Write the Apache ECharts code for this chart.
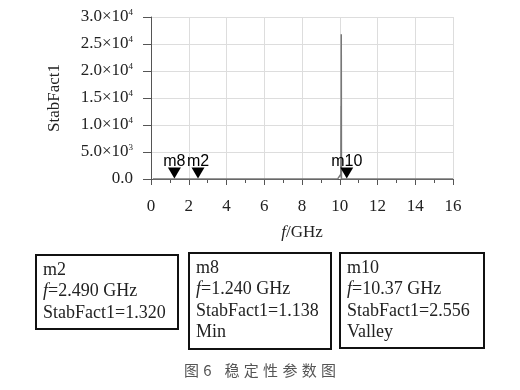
<!DOCTYPE html>
<html>
<head>
<meta charset="utf-8">
<script src="https://cdn.jsdelivr.net/npm/echarts@6/dist/echarts.min.js"></script>
<style>
  html, body { margin: 0; padding: 0; background: #fff; }
  #main { width: 520px; height: 390px; }
</style>
</head>
<body>
<div id="main"></div>
<script>
// StabFact1 曲线 (频率 GHz, 数值)
const freq = [0.1, 0.5, 1.0, 1.24, 1.8, 2.49, 3, 4, 5, 6, 7, 8, 9, 9.5, 9.9, 10.0, 10.06, 10.07, 10.075, 10.08, 10.09, 10.2, 10.37, 10.6, 11, 12, 13, 14, 15, 16];
const stab = [3.2, 1.8, 1.2, 1.138, 1.2, 1.32, 1.5, 1.9, 2.3, 2.8, 3.4, 4.5, 8, 15, 60, 300, 900, 13500, 400, 26800, 60, 6, 2.556, 3.1, 3.6, 3.2, 2.9, 2.7, 2.6, 2.5];

// 标记点
const markerNames = ['m8', 'm2', 'm10'];
const markerFreq = [1.24, 2.49, 10.37];
const markerVal = [1.138, 1.320, 2.556];

const xTicks = [0, 2, 4, 6, 8, 10, 12, 14, 16];
const yTicks = [0, 5000, 10000, 15000, 20000, 25000, 30000];

// 标记信息框
const boxLines = [
  ['m2', 'f=2.490 GHz', 'StabFact1=1.320'],
  ['m8', 'f=1.240 GHz', 'StabFact1=1.138', 'Min'],
  ['m10', 'f=10.37 GHz', 'StabFact1=2.556', 'Valley']
];

const serif = '"Liberation Serif", "Times New Roman", serif';

function yFmt(v) {
  if (v === 0) return '{b|0.0}';
  const e = Math.floor(Math.log10(v));
  const m = (v / Math.pow(10, e)).toFixed(1);
  return '{b|' + m + '×10}{s|' + e + '}';
}

const boxes = [
  { x: 36, y: 255, w: 142, h: 74 },
  { x: 189, y: 253, w: 142, h: 96 },
  { x: 340, y: 253, w: 144, h: 95 }
];

const graphics = [];
boxes.forEach((b, i) => {
  graphics.push({
    type: 'rect',
    shape: { x: b.x, y: b.y, width: b.w, height: b.h },
    style: { fill: 'none', stroke: '#111', lineWidth: 2 }
  });
  const lines = boxLines[i].map(t => {
    if (t.startsWith('f=')) return '{i|f}{t|' + t.slice(1) + '}';
    return '{t|' + t + '}';
  });
  graphics.push({
    type: 'text',
    left: b.x + 7,
    top: b.y + 6,
    style: {
      text: lines.join('\n'),
      rich: {
        t: { fontFamily: serif, fontSize: 18, lineHeight: 21.5, fill: '#222' },
        i: { fontFamily: serif, fontSize: 18, lineHeight: 21.5, fontStyle: 'italic', fill: '#222' }
      }
    }
  });
});
// 图题
const sp = ' \u200a';
graphics.push({
  type: 'text',
  left: 'center',
  top: 363,
  style: {
    text: '图' + sp + '6' + sp + sp + sp + ['稳', '定', '性', '参', '数', '图'].join(sp),
    font: '15px "Noto Sans CJK SC"',
    fill: '#555'
  }
});

const chart = echarts.init(document.getElementById('main'));
chart.setOption({
  animation: false,
  grid: { left: 151, right: 67, top: 17, bottom: 211 },
  xAxis: {
    type: 'value',
    min: 0, max: 16, interval: 2,
    name: '{i|f}{t|/GHz}',
    nameLocation: 'middle',
    nameGap: 45,
    nameTextStyle: {
      rich: {
        i: { fontFamily: serif, fontSize: 17, fontStyle: 'italic', color: '#222' },
        t: { fontFamily: serif, fontSize: 17, color: '#222' }
      }
    },
    axisLine: { lineStyle: { color: '#555', width: 1 } },
    axisTick: { inside: false, length: 6, lineStyle: { color: '#555' } },
    minorTick: { show: true, splitNumber: 2, length: 4, lineStyle: { color: '#555' } },
    axisLabel: {
      fontFamily: serif, fontSize: 17, color: '#222', margin: 19,
      formatter: v => xTicks.includes(v) ? String(v) : ''
    },
    splitLine: { show: true, lineStyle: { color: '#ddd' } }
  },
  yAxis: {
    type: 'value',
    min: 0, max: 30000, interval: 5000,
    name: 'StabFact1',
    nameLocation: 'middle',
    nameGap: 88,
    nameRotate: 90,
    nameTextStyle: { fontFamily: serif, fontSize: 17, color: '#222' },
    axisLine: { show: true, lineStyle: { color: '#555' } },
    axisTick: { show: true, length: 8, lineStyle: { color: '#555' } },
    axisLabel: {
      margin: 18,
      formatter: v => yTicks.includes(v) ? yFmt(v) : '',
      rich: {
        b: { fontFamily: serif, fontSize: 17, color: '#222', lineHeight: 18 },
        s: { fontFamily: serif, fontSize: 9, color: '#222', verticalAlign: 'top', lineHeight: 18, padding: [0, 0, 11, 0] }
      }
    },
    splitLine: { show: true, lineStyle: { color: '#ddd' } }
  },
  series: [
    {
      type: 'line',
      data: freq.map((f, i) => [f, stab[i]]),
      showSymbol: false,
      lineStyle: { color: '#777', width: 1.5 },
      z: 3
    },
    {
      type: 'scatter',
      data: markerFreq.map((f, i) => ({ value: [f, markerVal[i]], name: markerNames[i] })),
      symbol: 'triangle',
      symbolRotate: 180,
      symbolSize: [13, 11],
      symbolOffset: [0, -6],
      itemStyle: { color: '#000', opacity: 1 },
      label: {
        show: true,
        position: 'top',
        distance: 0,
        offset: [0, 2],
        formatter: p => p.name,
        fontFamily: '"Liberation Sans", Arial, sans-serif',
        fontSize: 16,
        color: '#000'
      },
      z: 5
    }
  ],
  graphic: graphics
});
</script>
</body>
</html>
